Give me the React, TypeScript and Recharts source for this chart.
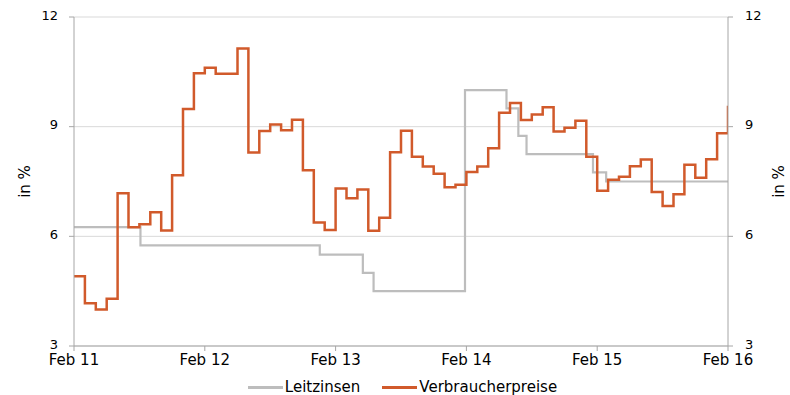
import React from 'react'
import { LineChart, Line, XAxis, YAxis, CartesianGrid, Legend } from 'recharts'

// monthly consumer prices, Feb 2011 .. Feb 2016 (in %)
const cpiValues = [
  4.91, 4.17, 4.0, 4.29, 7.18, 6.25, 6.33, 6.66, 6.16, 7.67, 9.48, 10.46,
  10.61, 10.45, 10.45, 11.14, 8.29, 8.88, 9.06, 8.9, 9.19, 7.81, 6.38, 6.17,
  7.31, 7.04, 7.28, 6.15, 6.51, 8.3, 8.89, 8.18, 7.91, 7.71, 7.34, 7.41,
  7.76, 7.91, 8.41, 9.38, 9.65, 9.18, 9.33, 9.53, 8.87, 8.97, 9.16, 8.18,
  7.25, 7.55, 7.63, 7.92, 8.1, 7.21, 6.83, 7.15, 7.96, 7.6, 8.11, 8.82,
  9.57,
]

// policy rate decisions
const rateDates = [
  '2011-02-01', '2011-08-04', '2012-12-18', '2013-04-16', '2013-05-16', '2014-01-28',
  '2014-05-22', '2014-06-24', '2014-07-17', '2015-01-20', '2015-02-24', '2016-02-01',
]
const rateValues = [6.25, 5.75, 5.5, 5.0, 4.5, 10.0, 9.5, 8.75, 8.25, 7.75, 7.5, 7.5]

const xTicks = [0, 12, 24, 36, 48, 60]
const xLabels = ['Feb 11', 'Feb 12', 'Feb 13', 'Feb 14', 'Feb 15', 'Feb 16']
const yTicks = [3, 6, 9, 12]

const seriesNames = ['Leitzinsen', 'Verbraucherpreise']
const seriesColors = ['#bdbdbd', '#d15a2b']

// months since Feb 2011 (fractional within the month)
const toMonth = (s: string) => {
  const [y, m, d] = s.split('-').map(Number)
  const days = new Date(Date.UTC(y, m, 0)).getUTCDate()
  return (y - 2011) * 12 + (m - 2) + (d - 1) / days
}

const cpiData = cpiValues.map((v, i) => ({ m: i, v }))
const rateData = rateDates.map((d, i) => ({ m: toMonth(d), v: rateValues[i] }))

const FONT = '"DejaVu Sans", sans-serif'
const AXIS = '#a6a6a6'

// y tick label, sitting a touch above the tick so "3" clears the date labels
const YTick = ({ x, y, payload, textAnchor }: any) => (
  <text x={x} y={y - 2} dy="0.355em" textAnchor={textAnchor} fontSize={13} fill="#000">
    {payload.value}
  </text>
)

const LegendContent = () => (
  <div style={{ display: 'flex', justifyContent: 'center', alignItems: 'center', height: 23, paddingTop: 7, boxSizing: 'border-box', paddingLeft: 15, fontFamily: FONT, fontSize: 15, color: '#000', lineHeight: '16px' }}>
    {seriesNames.map((name, i) => (
      <div key={name} style={{ display: 'flex', alignItems: 'center', marginRight: i === 0 ? 22 : 0 }}>
        <span style={{ display: 'inline-block', width: 35, height: 3, background: seriesColors[i], marginRight: 2 }} />
        <span>{name}</span>
      </div>
    ))}
  </div>
)

export default function App() {
  return (
    <div style={{ position: 'absolute', left: 0, top: 0, width: 790, height: 395, background: '#fff' }}>
      <LineChart width={790} height={395} margin={{ top: 17, right: 0, bottom: 0, left: 0 }} style={{ fontFamily: FONT }}>
        <CartesianGrid horizontal vertical={false} stroke="#d9d9d9" />
        <XAxis
          type="number"
          dataKey="m"
          domain={[0, 60]}
          ticks={xTicks}
          tickFormatter={(v: number) => xLabels[xTicks.indexOf(v)]}
          height={26}
          stroke={AXIS}
          tickSize={5}
          tickMargin={3}
          tick={{ fill: '#000', fontSize: 15 }}
          allowDataOverflow
        />
        <YAxis
          domain={[3, 12]}
          ticks={yTicks}
          width={74}
          stroke={AXIS}
          tickSize={5}
          tickMargin={11}
          tick={<YTick />}
          label={{ value: 'in %', angle: -90, position: 'insideLeft', offset: 25, style: { textAnchor: 'middle', fill: '#000', fontSize: 15 } }}
        />
        <YAxis
          yAxisId="right"
          orientation="right"
          domain={[3, 12]}
          ticks={yTicks}
          width={62}
          stroke={AXIS}
          tickSize={5}
          tickMargin={12}
          includeHidden
          tick={<YTick />}
          label={{ value: 'in %', angle: -90, position: 'insideRight', offset: 11, style: { textAnchor: 'middle', fill: '#000', fontSize: 15 } }}
        />
        <Legend verticalAlign="bottom" height={23} content={<LegendContent />} />
        <Line
          data={rateData}
          dataKey="v"
          name={seriesNames[0]}
          type="stepAfter"
          stroke={seriesColors[0]}
          strokeWidth={2.2}
          dot={false}
          isAnimationActive={false}
        />
        <Line
          data={cpiData}
          dataKey="v"
          name={seriesNames[1]}
          type="stepAfter"
          stroke={seriesColors[1]}
          strokeWidth={2.5}
          dot={false}
          isAnimationActive={false}
        />
        {/* binds the right-hand axis; not drawn */}
        <Line
          yAxisId="right"
          data={cpiData}
          dataKey="v"
          hide
          legendType="none"
          dot={false}
          isAnimationActive={false}
        />
      </LineChart>
    </div>
  )
}
